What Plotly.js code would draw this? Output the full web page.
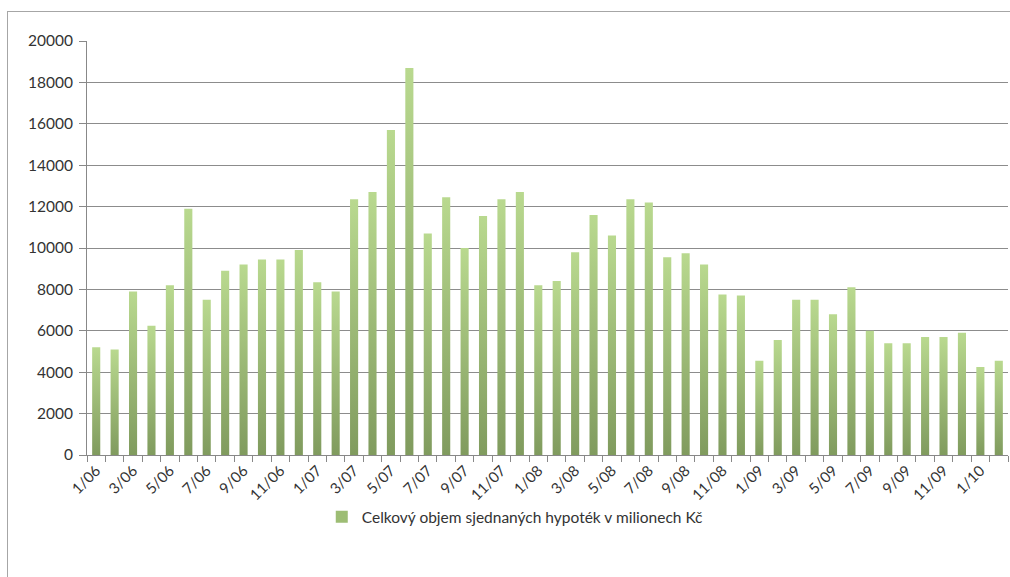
<!DOCTYPE html>
<html>
<head>
<meta charset="utf-8">
<script src="https://cdn.plot.ly/plotly-3.0.1.min.js"></script>
<style>
  html, body { margin: 0; padding: 0; background: #fff; }
  #wrap { position: relative; width: 1010px; height: 577px; overflow: hidden; }
  #chart { width: 1010px; height: 577px; }
  #frame { position: absolute; left: 7px; top: 11px; width: 1020px; height: 600px;
           border: 1.5px solid #a6a6a6; pointer-events: none; box-sizing: border-box; }
</style>
</head>
<body>
<div id="wrap">
  <div id="chart"></div>
  <div id="frame"></div>
</div>
<script>
// Months 1/06 .. 2/10
const months = [
  "1/06","2/06","3/06","4/06","5/06","6/06","7/06","8/06","9/06","10/06","11/06","12/06",
  "1/07","2/07","3/07","4/07","5/07","6/07","7/07","8/07","9/07","10/07","11/07","12/07",
  "1/08","2/08","3/08","4/08","5/08","6/08","7/08","8/08","9/08","10/08","11/08","12/08",
  "1/09","2/09","3/09","4/09","5/09","6/09","7/09","8/09","9/09","10/09","11/09","12/09",
  "1/10","2/10"
];
const volumes = [
  5200, 5100, 7900, 6250, 8200, 11900, 7500, 8900, 9200, 9450, 9450, 9900,
  8350, 7900, 12350, 12700, 15700, 18700, 10700, 12450, 10000, 11550, 12350, 12700,
  8200, 8400, 9800, 11600, 10600, 12350, 12200, 9550, 9750, 9200, 7750, 7700,
  4550, 5550, 7500, 7500, 6800, 8100, 6000, 5400, 5400, 5700, 5700, 5900,
  4250, 4550
];
const tickLabels = months.map((m, i) => (i % 2 === 0 ? m : ""));
const seriesName = "Celkový objem sjednaných hypoték v milionech Kč";
const yTicks = [0, 2000, 4000, 6000, 8000, 10000, 12000, 14000, 16000, 18000, 20000];

const font = "Lato, 'Open Sans', sans-serif";

const trace = {
  type: "bar",
  x: months,
  y: volumes,
  name: seriesName,
  marker: { color: "#9dbd74", line: { width: 0 } },
  showlegend: true,
  hoverinfo: "x+y"
};

const layout = {
  width: 1010,
  height: 577,
  margin: { l: 87, r: 2, t: 41, b: 122 },
  paper_bgcolor: "rgba(0,0,0,0)",
  plot_bgcolor: "rgba(0,0,0,0)",
  bargap: 0.56,
  font: { family: font, size: 14, color: "#333" },
  xaxis: {
    type: "category",
    tickmode: "array",
    tickvals: months,
    ticktext: tickLabels,
    tickangle: -45,
    tickson: "boundaries",
    ticks: "outside",
    ticklen: 6,
    tickcolor: "#888",
    showline: true,
    linecolor: "#888",
    linewidth: 1,
    showgrid: false,
    zeroline: false,
    tickfont: { family: font, size: 15, color: "#333" }
  },
  yaxis: {
    range: [0, 20000],
    tickmode: "array",
    tickvals: yTicks,
    ticktext: yTicks.map(String),
    ticks: "outside",
    ticklen: 7,
    tickcolor: "#888",
    showline: true,
    linecolor: "#888",
    linewidth: 1,
    showgrid: true,
    gridcolor: "#8c8c8c",
    gridwidth: 1,
    zeroline: false,
    ticklabelstandoff: 3,
    tickfont: { family: font, size: 15.5, color: "#333" }
  },
  legend: {
    orientation: "h",
    x: 0.465,
    xanchor: "center",
    y: -0.15,
    yanchor: "middle",
    font: { family: font, size: 15.5, color: "#333" },
    itemwidth: 30
  }
};

Plotly.newPlot("chart", [trace], layout, { displayModeBar: false, staticPlot: true }).then(gd => {
  const svg = gd.querySelector("svg.main-svg");
  const ns = "http://www.w3.org/2000/svg";
  let defs = svg.querySelector("defs");
  if (!defs) { defs = document.createElementNS(ns, "defs"); svg.insertBefore(defs, svg.firstChild); }
  const grad = document.createElementNS(ns, "linearGradient");
  grad.setAttribute("id", "barGrad");
  grad.setAttribute("x1", "0"); grad.setAttribute("y1", "0");
  grad.setAttribute("x2", "0"); grad.setAttribute("y2", "1");
  [["0%", "#b9d98f"], ["100%", "#809b5e"]].forEach(([o, c]) => {
    const s = document.createElementNS(ns, "stop");
    s.setAttribute("offset", o); s.setAttribute("stop-color", c);
    grad.appendChild(s);
  });
  defs.appendChild(grad);
  gd.querySelectorAll(".barlayer .bars path").forEach(p => {
    p.style.fill = "url(#barGrad)";
  });
});
</script>
</body>
</html>
